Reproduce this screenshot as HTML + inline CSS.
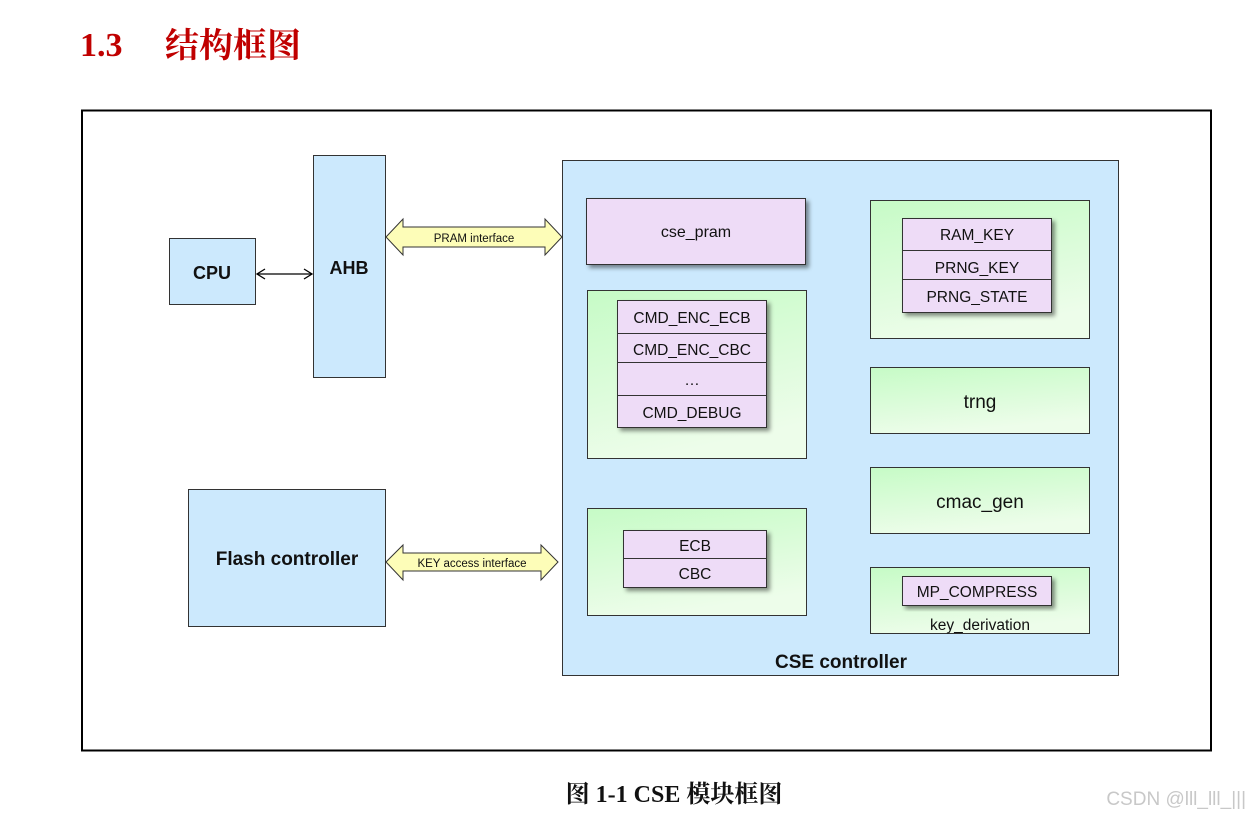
<!DOCTYPE html>
<html><head><meta charset="utf-8"><style>
html,body{margin:0;padding:0;background:#fff;width:1251px;height:819px;overflow:hidden}
svg{display:block}
text{font-family:"Liberation Sans","DejaVu Sans",sans-serif;fill:#111}
</style></head><body>
<svg width="1251" height="819" viewBox="0 0 1251 819">
<defs>
<linearGradient id="g" x1="0" y1="0" x2="0.3" y2="1">
<stop offset="0" stop-color="#c6fbc6"/><stop offset="1" stop-color="#edfdea"/>
</linearGradient>
<filter id="sh" x="-10%" y="-10%" width="130%" height="130%">
<feDropShadow dx="3" dy="3" stdDeviation="2" flood-color="#000" flood-opacity="0.45"/>
</filter>
</defs>
<text x="80" y="56" style="font-family:'Liberation Serif','Noto Serif CJK SC',serif;font-weight:bold;font-size:34px;fill:#c00000">1.3</text>
<text x="165" y="57" style="font-family:'Liberation Serif','Noto Serif CJK SC',serif;font-weight:bold;font-size:34px;fill:#c00000">结构框图</text>

<rect x="82" y="110.5" width="1129" height="640" fill="#fff" stroke="#000" stroke-width="2"/>

<!-- CPU/AHB -->
<rect x="169.5" y="238.5" width="86" height="66" fill="#cce9fd" stroke="#333"/>
<text x="212" y="279" text-anchor="middle" font-size="18" font-weight="bold">CPU</text>
<rect x="313.5" y="155.5" width="72" height="222" fill="#cce9fd" stroke="#333"/>
<text x="349" y="274" text-anchor="middle" font-size="18" font-weight="bold">AHB</text>
<line x1="257" y1="274" x2="312" y2="274" stroke="#000" stroke-width="1.3"/>
<polyline points="265,269 257,274 265,279" fill="none" stroke="#000" stroke-width="1.3"/>
<polyline points="304,269 312,274 304,279" fill="none" stroke="#000" stroke-width="1.3"/>

<!-- Flash -->
<rect x="188.5" y="489.5" width="197" height="137" fill="#cce9fd" stroke="#333"/>
<text x="287" y="565" text-anchor="middle" font-size="19" font-weight="bold">Flash controller</text>

<!-- arrows -->
<polygon points="386,237 403,219 403,227 545,227 545,219 562,237 545,255 545,247 403,247 403,255" fill="#fdfdb8" stroke="#333"/>
<text x="474" y="242" text-anchor="middle" font-size="11.5">PRAM interface</text>
<polygon points="386,562 403,545 403,553 541,553 541,545 558,562 541,580 541,571 403,571 403,580" fill="#fdfdb8" stroke="#333"/>
<text x="472" y="567" text-anchor="middle" font-size="11.5">KEY access interface</text>

<!-- CSE controller -->
<rect x="562.5" y="160.5" width="556" height="515" fill="#cce9fd" stroke="#333"/>
<text x="841" y="668" text-anchor="middle" font-size="19" font-weight="bold">CSE controller</text>

<rect x="586.5" y="198.5" width="219" height="66" fill="#eedcf7" stroke="#333" filter="url(#sh)"/>
<text x="696" y="237" text-anchor="middle" font-size="16">cse_pram</text>

<rect x="587.5" y="290.5" width="219" height="168" fill="url(#g)" stroke="#333"/>
<g filter="url(#sh)">
<rect x="617.5" y="300.5" width="149" height="127" fill="#eedcf7" stroke="#333"/>
</g>
<line x1="617" y1="333.5" x2="767" y2="333.5" stroke="#333"/>
<line x1="617" y1="362.5" x2="767" y2="362.5" stroke="#333"/>
<line x1="617" y1="395.5" x2="767" y2="395.5" stroke="#333"/>
<text x="692" y="323" text-anchor="middle" font-size="15.5">CMD_ENC_ECB</text>
<text x="692" y="355" text-anchor="middle" font-size="15.5">CMD_ENC_CBC</text>
<text x="692" y="385" text-anchor="middle" font-size="15.5">…</text>
<text x="692" y="418" text-anchor="middle" font-size="15.5">CMD_DEBUG</text>

<rect x="587.5" y="508.5" width="219" height="107" fill="url(#g)" stroke="#333"/>
<rect x="623.5" y="530.5" width="143" height="57" fill="#eedcf7" stroke="#333" filter="url(#sh)"/>
<line x1="623" y1="558.5" x2="767" y2="558.5" stroke="#333"/>
<text x="695" y="551" text-anchor="middle" font-size="15.5">ECB</text>
<text x="695" y="579" text-anchor="middle" font-size="15.5">CBC</text>

<rect x="870.5" y="200.5" width="219" height="138" fill="url(#g)" stroke="#333"/>
<rect x="902.5" y="218.5" width="149" height="94" fill="#eedcf7" stroke="#333" filter="url(#sh)"/>
<line x1="902" y1="250.5" x2="1052" y2="250.5" stroke="#333"/>
<line x1="902" y1="279.5" x2="1052" y2="279.5" stroke="#333"/>
<text x="977" y="240" text-anchor="middle" font-size="15.5">RAM_KEY</text>
<text x="977" y="273" text-anchor="middle" font-size="15.5">PRNG_KEY</text>
<text x="977" y="302" text-anchor="middle" font-size="15.5">PRNG_STATE</text>

<rect x="870.5" y="367.5" width="219" height="66" fill="url(#g)" stroke="#333"/>
<text x="980" y="408" text-anchor="middle" font-size="19">trng</text>
<rect x="870.5" y="467.5" width="219" height="66" fill="url(#g)" stroke="#333"/>
<text x="980" y="508" text-anchor="middle" font-size="19">cmac_gen</text>
<rect x="870.5" y="567.5" width="219" height="66" fill="url(#g)" stroke="#333"/>
<rect x="902.5" y="576.5" width="149" height="29" fill="#eedcf7" stroke="#333" filter="url(#sh)"/>
<text x="977" y="597" text-anchor="middle" font-size="15.5">MP_COMPRESS</text>
<text x="980" y="630" text-anchor="middle" font-size="15.5">key_derivation</text>

<text x="674" y="802" text-anchor="middle" style="font-family:'Liberation Serif','Noto Serif CJK SC',serif;font-weight:bold;font-size:24px">图 1-1 CSE 模块框图</text>
<text x="1246" y="805" text-anchor="end" style="font-size:19px;fill:#c8c8c8">CSDN @lll_lll_|||</text>
</svg>
</body></html>
